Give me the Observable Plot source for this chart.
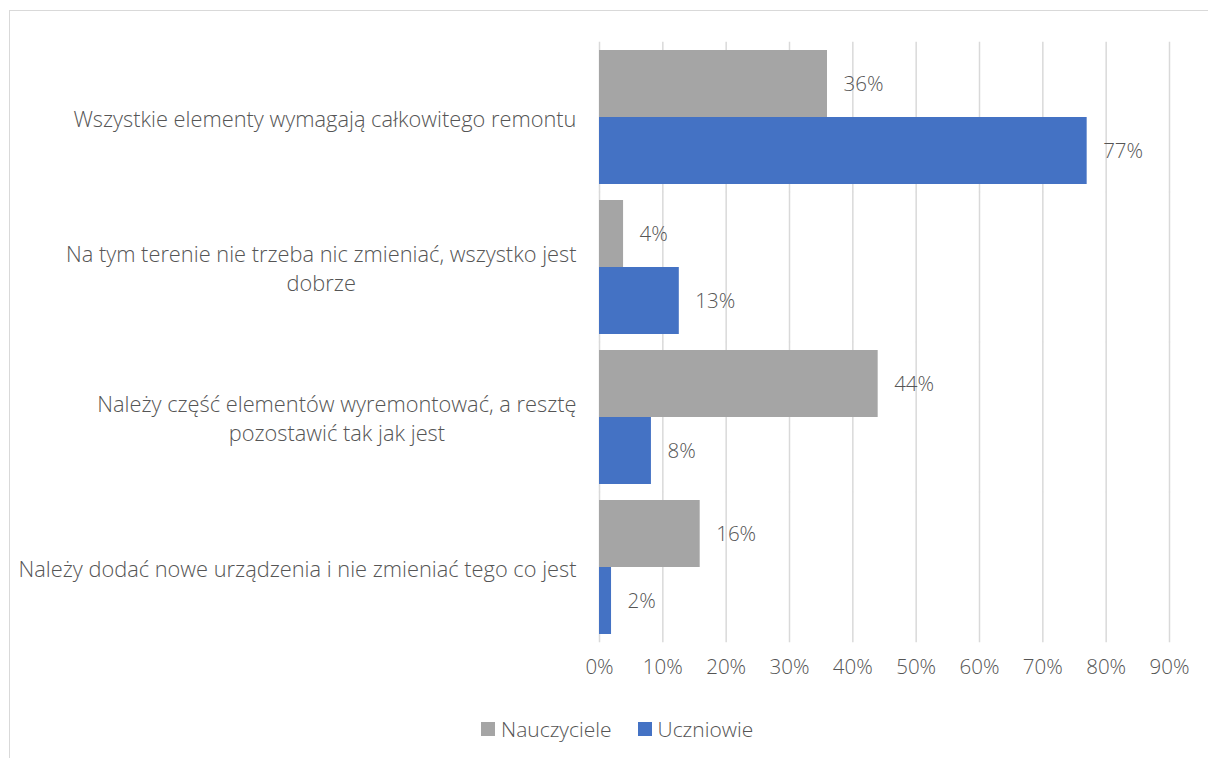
<!DOCTYPE html>
<html>
<head>
<meta charset="utf-8">
<script src="https://cdn.jsdelivr.net/npm/d3@7"></script>
<script src="https://cdn.jsdelivr.net/npm/@observablehq/plot@0.6"></script>
<style>
  html, body { margin: 0; padding: 0; background: #fff; }
  #wrap { position: relative; width: 1208px; height: 758px; overflow: hidden; font-family: "Open Sans", sans-serif; font-weight: 300; color: #555; }
  #frame { position: absolute; left: 9px; top: 10px; width: 1300px; height: 900px; border: 1px solid #d9d9d9; box-sizing: border-box; }
  #chart { position: absolute; left: 0; top: 0; }
  #legend { position: absolute; left: 481px; top: 716px; height: 26px; display: flex; align-items: center; font-size: 21px; }
  .sw { width: 14px; height: 14px; margin-right: 6px; }
  .item { display: flex; align-items: center; margin-right: 26px; }
</style>
</head>
<body>
<div id="wrap">
  <div id="frame"></div>
  <div id="chart"></div>
  <div id="legend"></div>
</div>
<script>
const categories = [
  "Wszystkie elementy wymagają całkowitego remontu",
  "Na tym terenie nie trzeba nic zmieniać, wszystko jest dobrze",
  "Należy część elementów wyremontować, a resztę pozostawić tak jak jest",
  "Należy dodać nowe urządzenia i nie zmieniać tego co jest"
];
const categoryLines = [
  ["Wszystkie elementy wymagają całkowitego remontu"],
  ["Na tym terenie nie trzeba nic zmieniać, wszystko jest", "dobrze"],
  ["Należy część elementów wyremontować, a resztę", "pozostawić tak jak jest"],
  ["Należy dodać nowe urządzenia i nie zmieniać tego co jest"]
];
const series = ["Nauczyciele", "Uczniowie"];
const colors = ["#A5A5A5", "#4472C4"];
const nauczyciele = [0.36, 0.038, 0.44, 0.159];
const uczniowie = [0.77, 0.126, 0.082, 0.019];
const xTicks = [0, 0.1, 0.2, 0.3, 0.4, 0.5, 0.6, 0.7, 0.8, 0.9];

const data = [];
categories.forEach((c, i) => {
  data.push({cat: c, series: series[0], value: nauczyciele[i]});
  data.push({cat: c, series: series[1], value: uczniowie[i]});
});

const FONT_SIZE = 20.5;
const CAT_FONT_SIZE = 21.8;
const FONT_FAMILY = '"Open Sans", sans-serif';
const TEXT = "#555555";
const ctx = document.createElement("canvas").getContext("2d");
ctx.font = `300 ${CAT_FONT_SIZE}px ${FONT_FAMILY}`;

const W = 1208, H = 700;
const mTop = 41, mBottom = 57, mLeft = 599, mRight = 39;
const padInner = 0.11;
const step = (H - mTop - mBottom) / categories.length;
const gridExt = step * padInner / 2;
const labelGap = 23;

const pct = d3.format(".0%");

const labelMarks = categories.map((c, i) => {
  const lines = categoryLines[i];
  const maxW = d3.max(lines, l => ctx.measureText(l).width);
  const multi = lines.length > 1;
  return Plot.text([{cat: c, t: lines.join("\n")}], {
    fy: "cat",
    text: "t",
    frameAnchor: "left",
    textAnchor: multi ? "middle" : "end",
    dx: multi ? -labelGap - maxW / 2 : -labelGap,
    lineHeight: 29 / CAT_FONT_SIZE,
    fontSize: CAT_FONT_SIZE,
    fill: TEXT
  });
});

const chart = Plot.plot({
  width: W,
  height: H,
  marginTop: mTop,
  marginBottom: mBottom,
  marginLeft: mLeft,
  marginRight: mRight,
  style: {fontFamily: FONT_FAMILY, fontSize: FONT_SIZE + "px", fontWeight: 300, color: TEXT, background: "transparent"},
  x: {domain: [0, 0.9], ticks: xTicks, tickFormat: pct, tickSize: 0, tickPadding: 25, label: null},
  fy: {domain: categories, paddingInner: padInner, paddingOuter: padInner / 2, axis: null, label: null},
  y: {domain: series, padding: 0, axis: null},
  color: {domain: series, range: colors},
  marks: [
    Plot.ruleX(xTicks, {stroke: "#d9d9d9", strokeWidth: 1.5, insetTop: -gridExt, insetBottom: -gridExt}),
    Plot.barX(data, {fy: "cat", y: "series", x: "value", fill: "series", insetTop: 0, insetBottom: 0}),
    Plot.text(data, {fy: "cat", y: "series", x: "value", text: d => pct(d.value), dx: 16, textAnchor: "start", fill: TEXT}),
    ...labelMarks
  ]
});
document.getElementById("chart").appendChild(chart);

const legend = document.getElementById("legend");
series.forEach((s, i) => {
  const item = document.createElement("div");
  item.className = "item";
  const sw = document.createElement("div");
  sw.className = "sw";
  sw.style.background = colors[i];
  const t = document.createElement("span");
  t.textContent = s;
  item.appendChild(sw);
  item.appendChild(t);
  legend.appendChild(item);
});
</script>
</body>
</html>
